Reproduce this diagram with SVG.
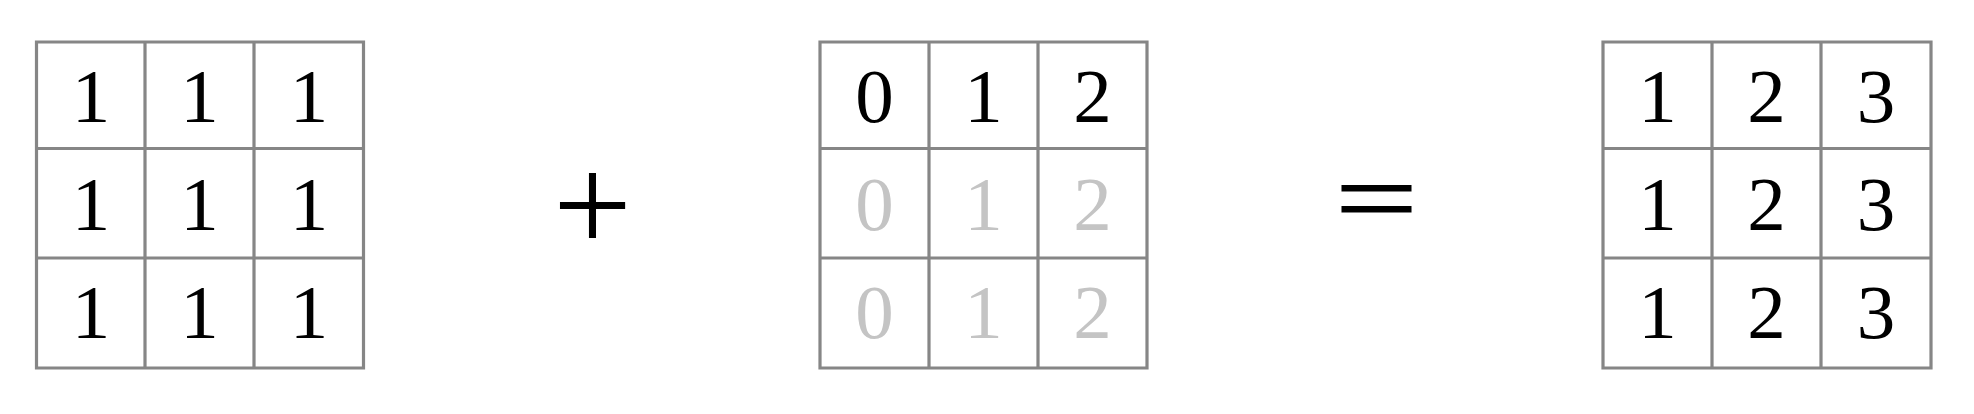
<svg xmlns="http://www.w3.org/2000/svg" width="1974" height="414" viewBox="0 0 1974 414">
<style>
.grid{fill:none;stroke:#868686;stroke-width:3.2}
.d{font-family:"Liberation Serif","Times New Roman",serif;font-size:77px;text-anchor:middle;fill:#000}
.f{fill:#c4c4c4}
.op{font-family:"Liberation Serif","Times New Roman",serif;text-anchor:middle;fill:#000}
</style>
<rect width="1974" height="414" fill="#fff"/>
<g id="matrixA">
<path class="grid" d="M36.5,42H363.5V368H36.5Z M145,42V368 M254,42V368 M36.5,148.5H363.5 M36.5,258H363.5"/>
<text class="d" x="91" y="122">1</text><text class="d" x="199.5" y="122">1</text><text class="d" x="309" y="122">1</text>
<text class="d" x="91" y="230">1</text><text class="d" x="199.5" y="230">1</text><text class="d" x="309" y="230">1</text>
<text class="d" x="91" y="338">1</text><text class="d" x="199.5" y="338">1</text><text class="d" x="309" y="338">1</text>
</g>
<g id="plus"><text class="op" x="592.5" y="252" font-size="140">+</text></g>
<g id="matrixB">
<path class="grid" d="M820,42H1147V368H820Z M929,42V368 M1038,42V368 M820,148.5H1147 M820,258H1147"/>
<text class="d" x="874.5" y="122">0</text><text class="d" x="983.5" y="122">1</text><text class="d" x="1092.5" y="122">2</text>
<text class="d f" x="874.5" y="230">0</text><text class="d f" x="983.5" y="230">1</text><text class="d f" x="1092.5" y="230">2</text>
<text class="d f" x="874.5" y="338">0</text><text class="d f" x="983.5" y="338">1</text><text class="d f" x="1092.5" y="338">2</text>
</g>
<g id="equals"><text class="op" x="0" y="50" font-size="140" stroke="#000" stroke-width="1.6" transform="translate(1376.5,196.5) scale(1.05,0.75)">=</text></g>
<g id="matrixC">
<path class="grid" d="M1603,42H1931V368H1603Z M1712,42V368 M1821,42V368 M1603,148.5H1931 M1603,258H1931"/>
<text class="d" x="1657.5" y="122">1</text><text class="d" x="1766.5" y="122">2</text><text class="d" x="1876" y="122">3</text>
<text class="d" x="1657.5" y="230">1</text><text class="d" x="1766.5" y="230">2</text><text class="d" x="1876" y="230">3</text>
<text class="d" x="1657.5" y="338">1</text><text class="d" x="1766.5" y="338">2</text><text class="d" x="1876" y="338">3</text>
</g>
<g id="connectors"/>
</svg>
